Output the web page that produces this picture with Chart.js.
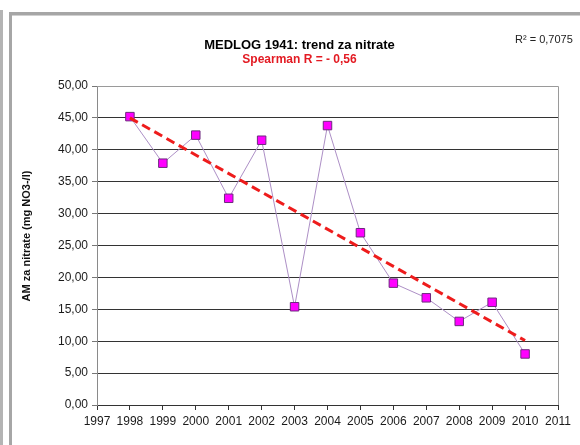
<!DOCTYPE html>
<html>
<head>
<meta charset="utf-8">
<script src="https://cdn.jsdelivr.net/npm/chart.js@4.4.0/dist/chart.umd.min.js"></script>
<style>
  html, body { margin: 0; padding: 0; background: #fff; }
  canvas { display: block; }
</style>
</head>
<body>
<canvas id="c" width="580" height="445"></canvas>
<script>
// ---- data ----
const years = [1998, 1999, 2000, 2001, 2002, 2003, 2004, 2005, 2006, 2007, 2008, 2009, 2010];
const nitrate = [45.2, 37.9, 42.3, 32.4, 41.5, 15.4, 43.8, 27.0, 19.1, 16.8, 13.1, 16.1, 8.0];
const trendYears = [1998, 2010];
const trendValues = [45.0, 10.1];
const xRange = [1997, 2011];
const yRange = [0, 50];
const yStep = 5;
const titleText = 'MEDLOG 1941: trend za nitrate';
const subtitleText = 'Spearman R = - 0,56';
const r2Text = 'R\u00B2 = 0,7075';
const yTitleText = 'AM za nitrate (mg NO3-/l)';

const FONT = "'Liberation Sans', Arial, sans-serif";

const framePlugin = {
  id: 'frame',
  beforeDraw(chart) {
    const ctx = chart.ctx;
    ctx.save();
    ctx.fillStyle = '#fff';
    ctx.fillRect(0, 0, chart.width, chart.height);
    ctx.fillStyle = '#b4b4b4';
    ctx.fillRect(0, 10, 3, chart.height - 10);
    ctx.fillStyle = '#a6a6a6';
    ctx.fillRect(9, 12, 3, chart.height - 12);
    ctx.fillRect(9, 12, chart.width - 9, 3);
    ctx.fillStyle = '#d0d0d0';
    ctx.fillRect(12, 15, chart.width - 12, 1);
    ctx.restore();
  },
  beforeDatasetsDraw(chart) {
    const a = chart.chartArea;
    const ctx = chart.ctx;
    ctx.save();
    ctx.strokeStyle = '#9a9a9a';
    ctx.lineWidth = 1;
    ctx.beginPath();
    ctx.moveTo(a.left, a.top + 0.5);
    ctx.lineTo(a.right + 0.5, a.top + 0.5);
    ctx.lineTo(a.right + 0.5, a.bottom);
    ctx.stroke();
    ctx.restore();
  },
  afterDraw(chart) {
    const ctx = chart.ctx;
    ctx.save();
    ctx.textAlign = 'center';
    ctx.textBaseline = 'middle';
    ctx.fillStyle = '#000';
    ctx.font = 'bold 13px ' + FONT;
    ctx.fillText(titleText, 299.5, 45.5);
    ctx.fillStyle = '#e31b23';
    ctx.font = 'bold 12px ' + FONT;
    ctx.fillText(subtitleText, 299.5, 59.5);
    ctx.fillStyle = '#222';
    ctx.font = '11px ' + FONT;
    ctx.textAlign = 'left';
    ctx.fillText(r2Text, 515, 40);
    ctx.translate(27, 236);
    ctx.rotate(-Math.PI / 2);
    ctx.textAlign = 'center';
    ctx.fillStyle = '#111';
    ctx.font = 'bold 11px ' + FONT;
    ctx.fillText(yTitleText, 0, 0);
    ctx.restore();
  }
};

new Chart(document.getElementById('c'), {
  type: 'line',
  data: {
    datasets: [
      {
        label: 'trend',
        data: trendYears.map((x, i) => ({ x, y: trendValues[i] })),
        borderColor: '#ee1c1c',
        borderWidth: 3,
        borderDash: [9, 5],
        pointRadius: 0,
        fill: false
      },
      {
        label: 'nitrate',
        data: years.map((x, i) => ({ x, y: nitrate[i] })),
        borderColor: '#ad8fc6',
        borderWidth: 1,
        pointStyle: 'rect',
        pointRadius: 6,
        pointBackgroundColor: '#ff00ff',
        pointBorderColor: '#6d2a7e',
        pointBorderWidth: 1,
        tension: 0,
        fill: false
      }
    ]
  },
  options: {
    responsive: false,
    devicePixelRatio: 1,
    animation: false,
    layout: { padding: { left: 0, right: 22, top: 86, bottom: 8 } },
    plugins: {
      legend: { display: false },
      tooltip: { enabled: false },
      title: { display: false }
    },
    scales: {
      x: {
        type: 'linear',
        min: xRange[0],
        max: xRange[1],
        afterFit(s) { s.height = 32; },
        ticks: {
          stepSize: 1,
          autoSkip: false,
          maxRotation: 0,
          padding: 4,
          color: '#1a1a1a',
          font: { family: FONT, size: 12 },
          callback: v => String(v)
        },
        grid: {
          drawOnChartArea: false,
          drawTicks: true,
          tickLength: 5,
          tickColor: '#333'
        },
        border: { color: '#333', width: 1 }
      },
      y: {
        min: yRange[0],
        max: yRange[1],
        afterFit(s) { s.width = 97; },
        ticks: {
          stepSize: yStep,
          padding: 4,
          color: '#1a1a1a',
          font: { family: FONT, size: 12 },
          callback: v => v.toFixed(2).replace('.', ',')
        },
        grid: {
          color: '#333',
          lineWidth: 1,
          borderDash: [1, 1],
          tickLength: 5,
          tickColor: '#777',
          tickBorderDash: []
        },
        border: { color: '#8a8a8a', width: 1 }
      }
    }
  },
  plugins: [framePlugin]
});
</script>
</body>
</html>
